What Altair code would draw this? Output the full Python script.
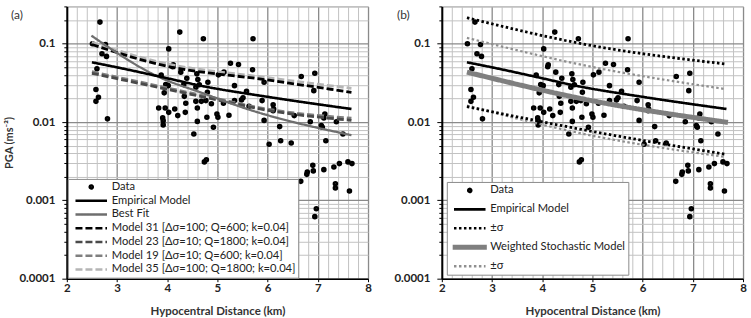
import altair as alt
import pandas as pd

# ---------------- data ----------------
dist = [2.51, 2.66, 2.70, 2.77, 2.79, 2.60, 2.58, 2.63, 2.58, 2.81,
        4.03, 4.25, 4.12, 4.11, 4.27, 3.88, 3.94, 3.97, 4.02, 3.83, 3.96, 3.91, 3.92, 3.92,
        4.03, 4.15, 4.21, 4.33, 4.39, 4.34, 4.37, 4.36,
        4.72, 4.53, 4.57, 4.60, 4.60, 4.59, 4.61, 4.57, 4.64, 4.68, 4.80, 4.77, 4.81, 4.79,
        4.88, 4.92, 4.99, 5.01, 4.74, 4.78,
        5.02, 5.13, 5.12, 5.23, 5.26, 5.42, 5.34, 5.34, 5.48, 5.51, 5.58, 5.63, 5.70, 5.71,
        5.89, 5.93, 5.93, 6.11, 6.12, 6.11, 6.03, 6.24, 6.26, 6.47, 6.53, 6.67, 6.85, 6.94,
        6.92, 7.07, 7.09, 7.14, 7.12, 7.16, 7.37, 7.50,
        6.66, 6.78, 6.79, 6.91, 6.90, 7.12, 7.32, 7.43, 7.60, 7.68, 7.35, 7.35, 7.63, 6.97, 6.94]
pga = [0.100, 0.189, 0.0745, 0.098, 0.069, 0.048, 0.026, 0.0207, 0.0184, 0.011,
       0.086, 0.141, 0.054, 0.051, 0.0434, 0.040, 0.0236, 0.0301, 0.0292, 0.0151, 0.0151, 0.0113, 0.0104, 0.0092,
       0.0133, 0.0147, 0.0121, 0.0301, 0.0363, 0.0213, 0.0174, 0.0133,
       0.116, 0.00705, 0.0184, 0.0151, 0.0102, 0.0413, 0.0349, 0.0279, 0.030, 0.0184, 0.024, 0.0188, 0.0323, 0.0115,
       0.0171, 0.0086, 0.0127, 0.0115, 0.0031, 0.0033,
       0.0401, 0.0434, 0.0174, 0.0122, 0.0565, 0.0543, 0.0292, 0.0188, 0.0192, 0.0204, 0.0247, 0.0159, 0.0465, 0.116,
       0.0188, 0.0323, 0.0105, 0.0166, 0.0147, 0.0140, 0.0052, 0.00875, 0.00578, 0.0054, 0.0121, 0.0382, 0.0101, 0.042,
       0.0252, 0.0090, 0.0086, 0.0127, 0.0113, 0.00578, 0.0101, 0.00705,
       0.00175, 0.00215, 0.0023, 0.00238, 0.0028, 0.00247, 0.00267, 0.00295, 0.0031, 0.00295, 0.00163, 0.00144, 0.00132, 0.00078, 0.00062]

emp_d = [2.5, 3.0, 3.86, 4.66, 5.98, 7.67]
emp_v = [0.058, 0.050, 0.038, 0.0292, 0.0211, 0.0147]
best_d = [2.49, 3.86, 4.66, 5.65, 7.67]
best_v = [0.127, 0.037, 0.024, 0.0143, 0.0068]
m_hi_d = [2.5, 3.86, 5.98, 7.67]
m31_v = [0.098, 0.054, 0.0346, 0.024]
m35_v = [0.104, 0.058, 0.037, 0.027]
m_lo_d = [2.5, 5.06, 5.85, 7.67]
m23_v = [0.042, 0.0188, 0.0147, 0.0105]
m19_v = [0.044, 0.0195, 0.0152, 0.0112]
sig_d = [2.5, 4.9, 7.63]
sigE_up = [0.215, 0.097, 0.0554]
sigE_lo = [0.0158, 0.0078, 0.0039]
wsm_d = [2.5, 4.98, 7.7]
wsm_v = [0.0434, 0.0188, 0.0099]
sigW_up = [0.119, 0.052, 0.0265]
sigW_lo = [0.0162, 0.0069, 0.0036]

x_ticks = [2, 2.2, 2.4, 2.6, 2.8, 3, 3.2, 3.4, 3.6, 3.8, 4, 4.2, 4.4, 4.6, 4.8, 5,
           5.2, 5.4, 5.6, 5.8, 6, 6.2, 6.4, 6.6, 6.8, 7, 7.2, 7.4, 7.6, 7.8, 8]
y_ticks = [float(f"{m}e{e}") for e in (-4, -3, -2) for m in range(1, 10)] + [0.1, 0.2, 0.3]

FONT = "Lato"
DOT = "M-0.095,0A0.095,0.095,0,1,0,0.095,0A0.095,0.095,0,1,0,-0.095,0Z"
BAR = "M-1,-0.075L1,-0.075L1,0.075L-1,0.075Z"
SOLID = [1, 0]

xmajor = "abs(datum.value - round(datum.value)) < 0.001"
ymajor = "abs(log(datum.value)/LN10 - round(log(datum.value)/LN10)) < 0.001"


def xenc():
    return alt.X("d:Q", scale=alt.Scale(domain=[2, 8], nice=False, zero=False),
                 axis=alt.Axis(values=x_ticks, title="Hypocentral Distance (km)",
                               labelExpr=f"{xmajor} ? format(datum.value, 'd') : ''",
                               labelOverlap=False, labelFlush=False,
                               labelFontSize={"condition": {"test": xmajor, "value": 11.5}, "value": 0},
                               gridColor={"condition": {"test": xmajor, "value": "#8a8a8a"}, "value": "#c2c2c2"},
                               gridWidth={"condition": {"test": xmajor, "value": 1.3}, "value": 1},
                               tickSize={"condition": {"test": xmajor, "value": 3}, "value": 0},
                               tickColor="black", domainColor="black", domainWidth=1.5,
                               labelFont=FONT, labelFontWeight="bold", labelColor="#222",
                               labelPadding=1,
                               titleFont=FONT, titleFontWeight="bold", titleFontSize=11.5, titleColor="#333",
                               titlePadding=11))


def yenc(show_title):
    return alt.Y("v:Q", scale=alt.Scale(type="log", domain=[0.0001, 0.3], nice=False),
                 axis=alt.Axis(values=y_ticks, title=("PGA (ms⁻²)" if show_title else ""),
                               labelExpr=f"{ymajor} ? format(datum.value, '~g') : ''",
                               labelOverlap=False,
                               labelFontSize={"condition": {"test": ymajor, "value": 11.5}, "value": 0},
                               gridColor={"condition": {"test": ymajor, "value": "#8a8a8a"}, "value": "#c2c2c2"},
                               gridWidth={"condition": {"test": ymajor, "value": 1.3}, "value": 1},
                               tickSize={"condition": {"test": ymajor, "value": 5}, "value": 3},
                               tickColor="black", domainColor="black", domainWidth=2,
                               labelFont=FONT, labelFontWeight="bold", labelColor="#222",
                               labelPadding=7,
                               titleFont=FONT, titleFontWeight="bold", titleFontSize=11, titleColor="#333",
                               titlePadding=4))


def panel(names, colors, dashes, shapes, lines, widths, tag, tag_x, show_ytitle, lx, ly,
          clip_h, rowpad, lpad, sym_off, label_expr=None):
    lkw = dict(labelExpr=label_expr) if label_expr else {}
    leg = alt.Legend(title=None, orient="none", legendX=lx, legendY=ly,
                     fillColor="white", strokeColor="#8c8c8c", padding=lpad,
                     symbolSize=1000, symbolStrokeWidth=2.6, symbolOpacity=1, symbolOffset=sym_off,
                     clipHeight=clip_h, rowPadding=rowpad,
                     labelFont=FONT, labelFontSize=11.2, labelColor="#222", labelOffset=3,
                     labelLimit=400, **lkw)
    color = alt.Color("series:N", scale=alt.Scale(domain=names, range=colors), legend=leg)
    dash = alt.StrokeDash("series:N", scale=alt.Scale(domain=names, range=dashes), legend=leg)
    shape = alt.Shape("series:N", scale=alt.Scale(domain=names, range=shapes), legend=leg)

    layers = []
    for name, part_list in lines:
        rows = []
        for part, dd, vv in part_list:
            for a, b in zip(dd, vv):
                rows.append({"d": a, "v": b, "series": name, "part": part})
        df = pd.DataFrame(rows)
        layers.append(alt.Chart(df).mark_line(strokeWidth=widths[names.index(name)], interpolate="monotone").encode(
            x=xenc(), y=yenc(show_ytitle), color=color, strokeDash=dash, detail="part:N"))
    pts = pd.DataFrame({"d": dist, "v": pga, "series": names[0]})
    layers.insert(0, alt.Chart(pts).mark_point(filled=False, size=1000, strokeWidth=2.6, opacity=1).encode(
        x=xenc(), y=yenc(show_ytitle), color=color, shape=shape))
    lab = pd.DataFrame({"t": [tag]})
    layers.append(alt.Chart(lab).mark_text(align="left", baseline="middle", font=FONT,
                                           fontSize=12, color="#333").encode(
        x=alt.value(tag_x), y=alt.value(9), text="t:N"))
    return alt.layer(*layers).properties(width=302, height=273)


left_names = ["Data", "Empirical Model", "Best Fit",
              "Model 31 [Δσ=100; Q=600; k=0.04]", "Model 23 [Δσ=10; Q=1800; k=0.04]",
              "Model 19 [Δσ=10; Q=600; k=0.04]", "Model 35 [Δσ=100; Q=1800; k=0.04]"]
left_colors = ["#000000", "#000000", "#6e6e6e", "#000000", "#4a4a4a", "#7f7f7f", "#b5b5b5"]
left_widths = [2.6, 2.6, 2.3, 2.8, 2.8, 2.8, 2.8]
left_dashes = [SOLID, SOLID, SOLID, [7, 3], [7, 3], [7, 3], [7, 3]]
left_shapes = [DOT, "stroke", "stroke", "stroke", "stroke", "stroke", "stroke"]
left_lines = [
    (left_names[6], [("a", m_hi_d, m35_v)]),
    (left_names[3], [("a", m_hi_d, m31_v)]),
    (left_names[5], [("a", m_lo_d, m19_v)]),
    (left_names[4], [("a", m_lo_d, m23_v)]),
    (left_names[2], [("a", best_d, best_v)]),
    (left_names[1], [("a", emp_d, emp_v)]),
]

right_names = ["Data", "Empirical Model", "±σ (empirical)", "Weighted Stochastic Model", "±σ (stochastic)"]
right_colors = ["#000000", "#000000", "#000000", "#7f7f7f", "#8f8f8f"]
right_widths = [2.6, 2.6, 2.8, 5.0, 2.2]
right_dashes = [SOLID, SOLID, [2.5, 2.5], SOLID, [2.5, 2.5]]
right_shapes = [DOT, "stroke", "stroke", BAR, "stroke"]
right_lines = [
    (right_names[4], [("up", sig_d, sigW_up), ("lo", sig_d, sigW_lo)]),
    (right_names[2], [("up", sig_d, sigE_up), ("lo", sig_d, sigE_lo)]),
    (right_names[3], [("a", wsm_d, wsm_v)]),
    (right_names[1], [("a", emp_d, emp_v)]),
]

left = panel(left_names, left_colors, left_dashes, left_shapes, left_lines, left_widths,
             "(a)", -56, True, 1, 173, 12, 1.8, 2, 4)
right = panel(right_names, right_colors, right_dashes, right_shapes, right_lines, right_widths,
              "(b)", -45, False, 5, 176, 12, 7, 2.5, 3,
              label_expr="indexof(datum.label, '±σ') == 0 ? '±σ' : datum.label")

chart = (alt.hconcat(left, right, spacing=21)
         .resolve_scale(color="independent", strokeDash="independent", shape="independent")
         .resolve_legend(color="independent", strokeDash="independent", shape="independent")
         .properties(padding={"left": 3, "top": 5, "right": 4, "bottom": 0})
         .configure_view(stroke="#9a9a9a", strokeWidth=1))

chart.save("out.html", embed_options={"renderer": "svg", "actions": False})
